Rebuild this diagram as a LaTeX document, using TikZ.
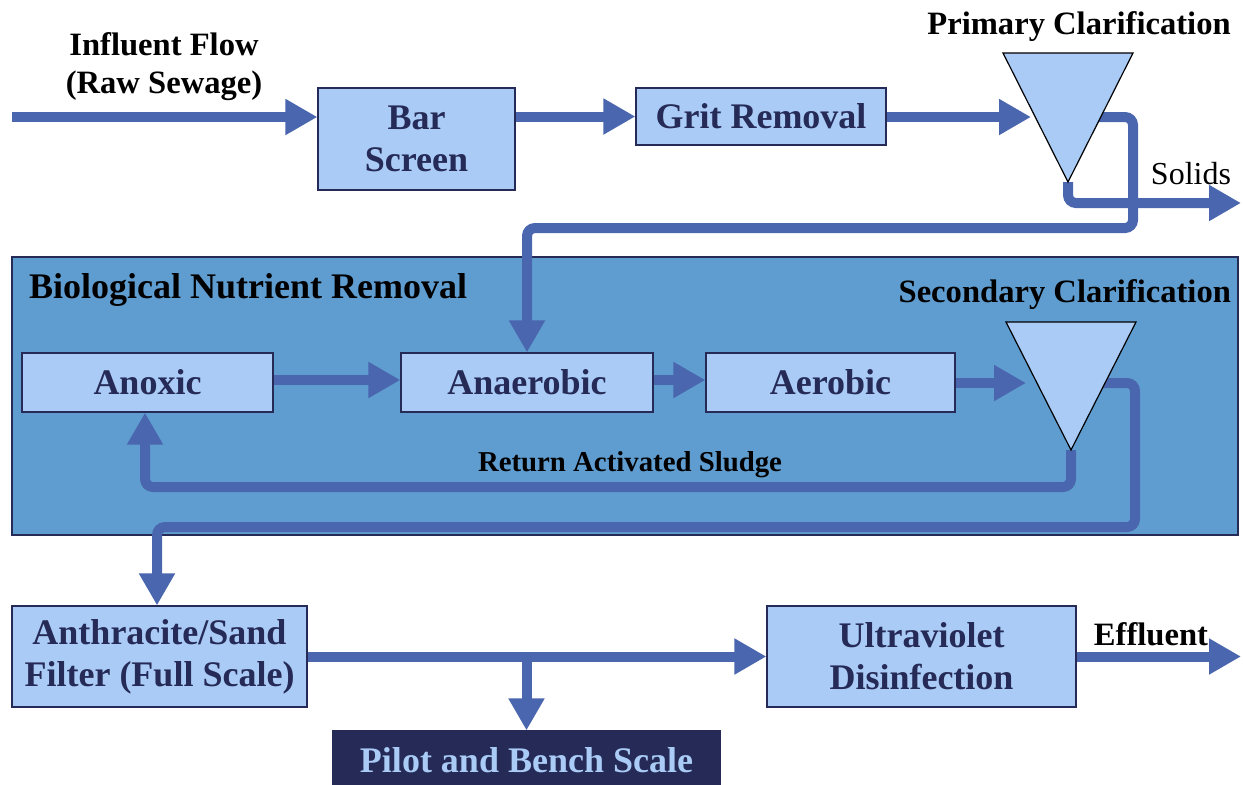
\documentclass[tikz,border=0pt]{standalone}
\usepackage{fontspec}
\setmainfont{Liberation Serif}[UprightFont=*, BoldFont=* Bold, ItalicFont=* Italic]
\usetikzlibrary{arrows.meta}
\definecolor{boxfill}{HTML}{A9CBF5}
\definecolor{bnrfill}{HTML}{5F9DD0}
\definecolor{flow}{HTML}{4A66AE}
\definecolor{navy}{HTML}{252A57}
\begin{document}
\begin{tikzpicture}[x=0.5pt,y=-0.5pt,
  proc/.style={draw=navy, line width=0.6pt, fill=boxfill, text=navy,
    font=\rmfamily\bfseries\fontsize{18}{21}\selectfont, align=center, inner sep=0pt},
  flowline/.style={draw=flow, line width=5pt, rounded corners=4pt},
  flowarrow/.style={flowline, -{Triangle[length=16pt,width=17pt]}},
  lbl/.style={font=\rmfamily\bfseries\fontsize{16.3}{19}\selectfont, text=black, align=center},
  clar/.style={draw=black, line width=0.6pt, fill=boxfill}]
\useasboundingbox (0,0) rectangle (1243,784);
\clip (0,0) rectangle (1243,784);
% BNR frame
\node[draw=navy, line width=0.6pt, fill=bnrfill, minimum width=613pt, minimum height=139pt, inner sep=0pt] (bnr) at (625,396) {};
% process boxes
\node[proc, minimum width=98.5pt, minimum height=51pt] (bar) at (416.5,139) {Bar\\Screen};
\node[proc, minimum width=125pt, minimum height=28.5pt] (grit) at (761,116.5) {Grit Removal};
\node[proc, minimum width=125.5pt, minimum height=29.5pt] (anox) at (147.5,382.5) {Anoxic};
\node[proc, minimum width=126pt, minimum height=29.5pt] (anaer) at (527,382.5) {Anaerobic};
\node[proc, minimum width=124.5pt, minimum height=29.5pt] (aer) at (830.5,382.5) {Aerobic};
\node[proc, minimum width=147.5pt, minimum height=50.5pt] (filter) at (159.5,656.5) {Anthracite/Sand\\Filter (Full Scale)};
\node[proc, minimum width=154.5pt, minimum height=50.5pt] (uv) at (921.5,656.5) {Ultraviolet\\Disinfection};
\node[proc, fill=navy, text=boxfill, minimum width=193.5pt, minimum height=29.5pt] (pilot) at (526.5,760.5) {Pilot and Bench Scale};
% clarifier points
\coordinate (p1a) at (1003,53); \coordinate (p1b) at (1133,53); \coordinate (p1c) at (1068,182);
\coordinate (p1in) at (1031,117); \coordinate (p1out) at (1098,117);
\coordinate (p2a) at (1006,322); \coordinate (p2b) at (1136,322); \coordinate (p2c) at (1071,450);
\coordinate (p2in) at (1026,383); \coordinate (p2out) at (1100,383);
\coordinate (inflow) at (12,117);
\coordinate (solids) at (1241,203);
\coordinate (eff) at (1241,656.5);
% connectors
\draw[flowarrow] (inflow) -- (inflow -| bar.west);
\draw[flowarrow] (bar.east |- grit) -- (grit.west);
\draw[flowarrow] (grit.east |- p1in) -- (p1in);
\draw[flowarrow] (p1out) -- (1133,117) -- (1133,228) -- (527,228) -- (anaer.north);
\draw[flowarrow] (p1c) -- (1068,203) -- (solids);
\draw[flowarrow] (anox.east |- 0,380) -- (anaer.west |- 0,380);
\draw[flowarrow] (anaer.east |- 0,380) -- (aer.west |- 0,380);
\draw[flowarrow] (aer.east |- p2in) -- (p2in);
\draw[flowarrow] (p2out) -- (1135,383) -- (1135,527) -- (157,527) -- (filter.north -| 157,0);
\draw[flowarrow] (p2c) -- (1071,487) -- (145,487) -- (anox.south -| 145,0);
\draw[flowarrow] (filter.east) -- (uv.west);
\draw[flowarrow] (pilot.north |- filter.east) -- (pilot.north);
\draw[flowarrow] (uv.east) -- (eff);
% clarifiers
\draw[clar] (p1a) -- (p1b) -- (p1c) -- cycle;
\draw[clar] (p2a) -- (p2b) -- (p2c) -- cycle;
% labels
\node[lbl] (inlbl) at (164,67) {Influent Flow\\(Raw Sewage)};
\node[lbl] (pclbl) at (1079,27) {Primary Clarification};
\node[font=\rmfamily\fontsize{16}{18}\selectfont] (sollbl) at (1191,174) {Solids};
\node[lbl, font=\rmfamily\bfseries\fontsize{18}{21}\selectfont, anchor=west] (bnrlbl) at (22,290) {Biological Nutrient Removal};
\node[lbl, anchor=east] (sclbl) at (1238,295) {Secondary Clarification};
\node[lbl, font=\rmfamily\bfseries\fontsize{14.4}{17}\selectfont] (raslbl) at (630,465) {Return Activated Sludge};
\node[lbl] (efflbl) at (1151,634) {Effluent};
\end{tikzpicture}
\end{document}
